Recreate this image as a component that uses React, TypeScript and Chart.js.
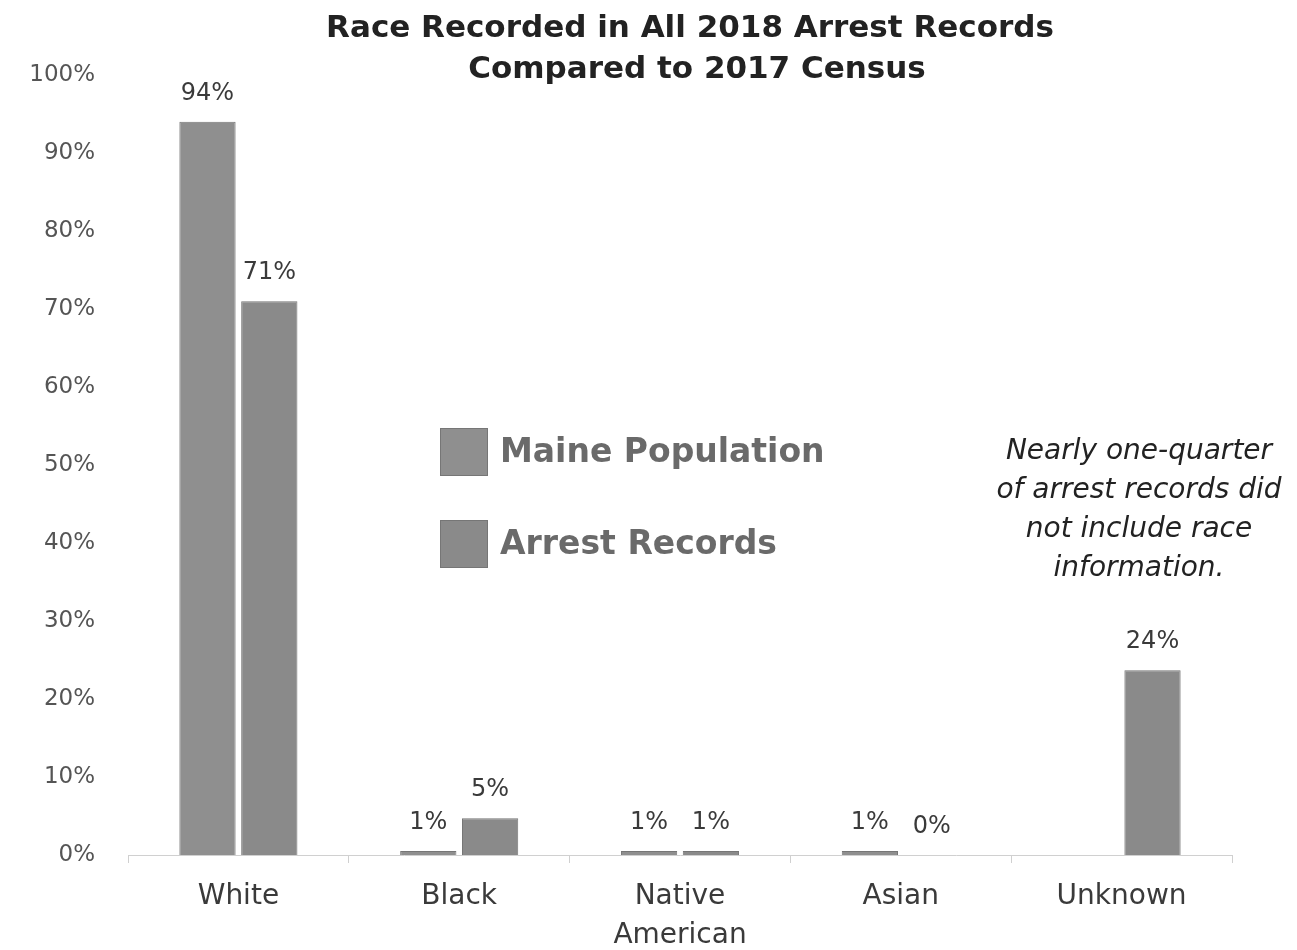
import React, { useEffect, useRef } from "react";
import { Chart, registerables } from "chart.js";

Chart.register(...registerables);

const categories: (string | string[])[] = ["White", "Black", ["Native", "American"], "Asian", "Unknown"];
const populationValues: (number | null)[] = [94, 0.5, 0.5, 0.5, null];
const arrestValues: (number | null)[] = [71, 4.7, 0.5, 0, 23.7];
const yTicks: number[] = [0, 10, 20, 30, 40, 50, 60, 70, 80, 90, 100];
const titleLines: string[] = ["Race Recorded in All 2018 Arrest Records", "Compared to 2017 Census"];
const legendLabels: string[] = ["Maine Population", "Arrest Records"];
const noteLines: string[] = ["Nearly one-quarter", "of arrest records did", "not include race", "information."];

const FONT = "'DejaVu Sans', sans-serif";
const BAR_FILL = "#8f8f8f";
const BAR_FILL2 = "#8a8a8a";
const BAR_EDGE = "#767676";

const overlayPlugin = {
  id: "overlay",
  afterDatasetsDraw(chart: any) {
    const ctx = chart.ctx;
    const area = chart.chartArea;
    ctx.save();
    // value labels
    ctx.font = `24px ${FONT}`;
    ctx.fillStyle = "#3a3a3a";
    ctx.textAlign = "center";
    ctx.textBaseline = "alphabetic";
    chart.data.datasets.forEach((ds: any, di: number) => {
      const meta = chart.getDatasetMeta(di);
      meta.data.forEach((el: any, i: number) => {
        const v = ds.data[i];
        if (v === null || v === undefined) return;
        ctx.fillText(`${Math.round(v)}%`, el.x, el.y - 22);
      });
    });
    // title
    ctx.font = `bold 31px ${FONT}`;
    ctx.fillStyle = "#222";
    ctx.textBaseline = "middle";
    ctx.fillText(titleLines[0], 690, 29);
    ctx.fillText(titleLines[1], 697, 70);
    // legend
    const colors = [BAR_FILL, BAR_FILL2];
    const legendX = area.left + 312;
    const legendY = [428, 520];
    legendLabels.forEach((lbl, i) => {
      ctx.fillStyle = colors[i];
      ctx.fillRect(legendX, legendY[i], 48, 48);
      ctx.strokeStyle = BAR_EDGE;
      ctx.lineWidth = 1;
      ctx.strokeRect(legendX + 0.5, legendY[i] + 0.5, 47, 47);
      ctx.fillStyle = "#6a6a6a";
      ctx.font = `bold 33px ${FONT}`;
      ctx.textAlign = "left";
      ctx.textBaseline = "middle";
      ctx.fillText(lbl, legendX + 60, legendY[i] + 25);
    });
    // note
    ctx.font = `italic 28px ${FONT}`;
    ctx.fillStyle = "#222";
    ctx.textAlign = "center";
    ctx.textBaseline = "middle";
    noteLines.forEach((line, i) => {
      ctx.fillText(line, 1139, 452 + i * 39);
    });
    ctx.restore();
  },
};

function BarChart() {
  const ref = useRef<HTMLCanvasElement | null>(null);
  useEffect(() => {
    if (!ref.current) return;
    const chart = new Chart(ref.current, {
      type: "bar",
      data: {
        labels: categories,
        datasets: [
          {
            label: legendLabels[0],
            data: populationValues,
            backgroundColor: BAR_FILL,
            borderColor: BAR_EDGE,
            borderWidth: 1,
            categoryPercentage: 0.56,
            barPercentage: 0.91,
          },
          {
            label: legendLabels[1],
            data: arrestValues,
            backgroundColor: BAR_FILL2,
            borderColor: BAR_EDGE,
            borderWidth: 1,
            categoryPercentage: 0.56,
            barPercentage: 0.91,
          },
        ] as any,
      },
      options: {
        animation: false,
        responsive: false,
        maintainAspectRatio: false,
        layout: { padding: { top: 75, right: 65, left: 0, bottom: 0 } },
        plugins: {
          legend: { display: false },
          title: { display: false },
          tooltip: { enabled: false },
        },
        scales: {
          x: {
            grid: {
              display: true,
              drawOnChartArea: false,
              drawTicks: true,
              tickLength: 8,
              color: "#d0d0d0",
            },
            border: { display: true, color: "#d0d0d0", width: 1 },
            ticks: {
              color: "#3a3a3a",
              font: { family: FONT, size: 28, lineHeight: 1.4 },
              padding: 14,
              maxRotation: 0,
              autoSkip: false,
            },
            afterFit(scale: any) {
              scale.height = 95;
            },
          },
          y: {
            min: 0,
            max: 100,
            afterBuildTicks(scale: any) {
              scale.ticks = yTicks.map((v) => ({ value: v }));
            },
            grid: { display: false, drawTicks: false },
            border: { display: false },
            ticks: {
              color: "#555",
              font: { family: FONT, size: 23 },
              padding: 33,
              callback: (v: any) => `${v}%`,
            },
            afterFit(scale: any) {
              scale.width = 128;
            },
          },
        },
      } as any,
      plugins: [overlayPlugin],
    });
    return () => chart.destroy();
  }, []);
  return <canvas ref={ref} width={1297} height={950} style={{ display: "block" }} />;
}

export default function App() {
  useEffect(() => {
    document.body.style.margin = "0";
    document.body.style.background = "#ffffff";
  }, []);
  return (
    <div style={{ position: "absolute", left: 0, top: 0, width: 1297, height: 950, background: "#fff" }}>
      <BarChart />
    </div>
  );
}
